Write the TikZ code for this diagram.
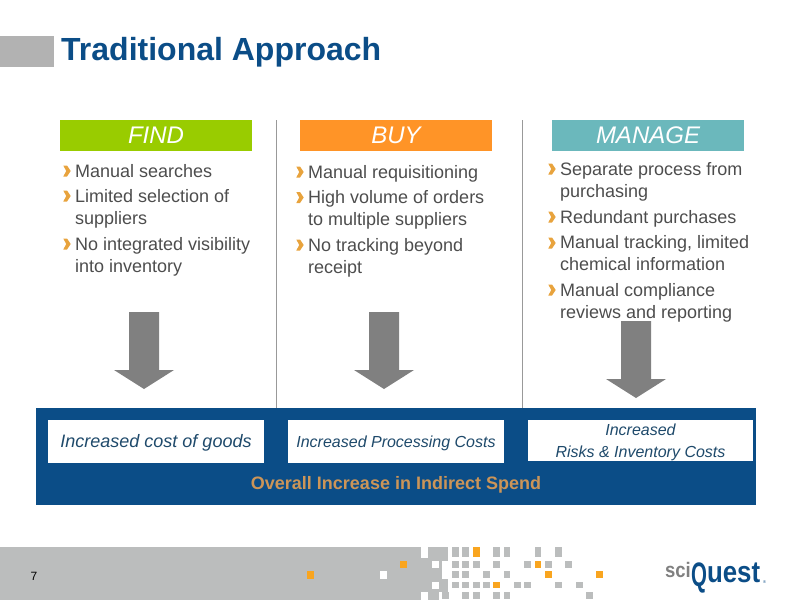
\documentclass[tikz,border=0pt]{standalone}
\usepackage{fontspec}
\usepackage{graphicx}
\setmainfont{Liberation Sans}
\definecolor{navy}{HTML}{0B4D87}
\definecolor{findgreen}{HTML}{99CC00}
\definecolor{buyorange}{HTML}{FF9427}
\definecolor{manageteal}{HTML}{6BB8BC}
\definecolor{bodygrey}{HTML}{4D4D4D}
\definecolor{bandgrey}{HTML}{BBBDBD}
\definecolor{pixorange}{HTML}{F9A51F}
\definecolor{chevorange}{HTML}{E8A33D}
\definecolor{sumorange}{HTML}{CC9558}
\definecolor{costblue}{HTML}{1F4A6B}
\tikzset{
  hdr/.style={inner sep=0pt,minimum width=192,minimum height=31,text=white,font=\fontsize{24}{28}\selectfont\itshape},
  item/.style={anchor=base west,inner sep=0pt,align=left,text=bodygrey,font=\fontsize{18}{22}\selectfont},
  costbox/.style={fill=white,inner sep=0pt,align=center,text=costblue,text depth=0pt,font=\fontsize{16}{22.5}\selectfont\itshape},
  pixg/.style={fill=bandgrey},
  pixo/.style={fill=pixorange}
}
\begin{document}
\begin{tikzpicture}[x=1pt,y=-1pt]
\useasboundingbox (0,0) rectangle (800,600);
\fill[fill=black!30] (0,36) rectangle (54,67);
\node[anchor=base west,inner sep=0pt,text=navy,font=\fontsize{32}{36}\selectfont\bfseries] (title) at (61,60) {Traditional Approach};
\node[hdr,fill=findgreen] (find) at (156,135.5) {FIND};
\node[hdr,fill=buyorange] (buy) at (396,135.5) {BUY};
\node[hdr,fill=manageteal] (manage) at (648,135.5) {MANAGE};
\draw[black!40] (276.5,120) -- (276.5,408);
\draw[black!40] (522.5,120) -- (522.5,408);
\node[item] (f1) at (75,177) {Manual searches};
\node[item] (f2) at (75,224) {Limited selection of\\suppliers};
\node[item] (f3) at (75,272) {No integrated visibility\\into inventory};
\node[item] (b1) at (308,178) {Manual requisitioning};
\node[item] (b2) at (308,225.5) {High volume of orders\\to multiple suppliers};
\node[item] (b3) at (308,273) {No tracking beyond\\receipt};
\node[item] (m1) at (560,197) {Separate process from\\purchasing};
\node[item] (m2) at (560,223) {Redundant purchases};
\node[item] (m3) at (560,270) {Manual tracking, limited\\chemical information};
\node[item] (m4) at (560,318) {Manual compliance\\reviews and reporting};
\foreach \cx/\cy in {67/171,67/196,67/244,300/172,300/197.5,300/245,552/169,552/217,552/243,552/290}
  \fill[chevorange] (\cx-3.7,\cy-5.5) -- ++(3.7,0) -- (\cx+3.7,\cy) -- (\cx,\cy+5.5) -- ++(-3.7,0) -- (\cx-0.8,\cy) -- cycle;
\foreach \cx/\ty in {144/312,384/312,636/321}
  \fill[black!50] (\cx-15,\ty) -- (\cx+15,\ty) -- (\cx+15,\ty+58) -- (\cx+30,\ty+58) -- (\cx,\ty+77) -- (\cx-30,\ty+58) -- (\cx-15,\ty+58) -- cycle;
\fill[navy] (36,408) rectangle (756,505);
\node[costbox,minimum width=216,minimum height=43,text depth=2pt,font=\fontsize{18}{22}\selectfont\itshape] (cost) at (156,441.5) {Increased cost of goods};
\node[costbox,minimum width=216,minimum height=43] (proc) at (396,441.5) {Increased Processing Costs};
\node[costbox,minimum width=225,minimum height=41] (risk) at (640.5,440.5) {Increased\\Risks \& Inventory Costs};
\node[inner sep=0pt,text=sumorange,font=\fontsize{18}{22}\selectfont\bfseries] (overall) at (396,485) {Overall Increase in Indirect Spend};
\fill[bandgrey] (0,547) rectangle (448,600);
\node[inner sep=0pt,font=\fontsize{12}{14}\selectfont] (page) at (34,576) {7};
\fill[pixo] (307,571) rectangle (314,578.5);
\fill[white] (379.5,571) rectangle (386.5,578.5);
\fill[pixo] (400,561) rectangle (407,568);
\fill[white] (421,547) rectangle (427.5,558);
\fill[white] (431.5,561) rectangle (438.5,568);
\fill[white] (441.5,561) rectangle (448,578.5);
\fill[white] (431.5,582) rectangle (438.5,589);
\fill[white] (421,592) rectangle (427.5,600);
\fill[white] (438.5,592) rectangle (448,600);
\fill[pixg] (441.8,592) rectangle (448.6,599);
\foreach \c/\s in {0/pixg,1/pixg,2/pixo,4/pixg,5/pixg,8/pixg,10/pixg}
  \fill[\s] ({455.5+10.3*\c-3.4},547.3) rectangle +(6.8,10);
\foreach \ry/\cols in {564.5/{0,1,2,4,7,9,11},574.7/{0,1,3,5},585/{0,1,2,3,6,7,10,12},595.3/{1,2,4,5,13}}
  \foreach \c in \cols
    \fill[pixg] ({455.5+10.3*\c-3.4},\ry-3.4) rectangle +(6.8,6.8);
\foreach \c/\ry in {8/564.5,9/574.7,14/574.7,4/585}
  \fill[pixo] ({455.5+10.3*\c-3.4},\ry-3.4) rectangle +(6.8,6.8);
\node[anchor=base east,inner sep=0pt,text=black!50,font=\fontsize{21}{24}\selectfont\bfseries,xscale=.88] (sci) at (691,577) {sci};
\node[anchor=base west,inner sep=0pt,text=navy,font=\fontsize{30}{34}\selectfont\bfseries,xscale=.86] (quest) at (691,582) {\raisebox{-4pt}{\fontsize{34}{36}\selectfont\scalebox{.7}[1]{Q}}uest};
\node[anchor=base west,inner sep=0pt,text=navy,font=\fontsize{4}{4}\selectfont] (reg) at (763,583) {®};
\end{tikzpicture}
\end{document}
